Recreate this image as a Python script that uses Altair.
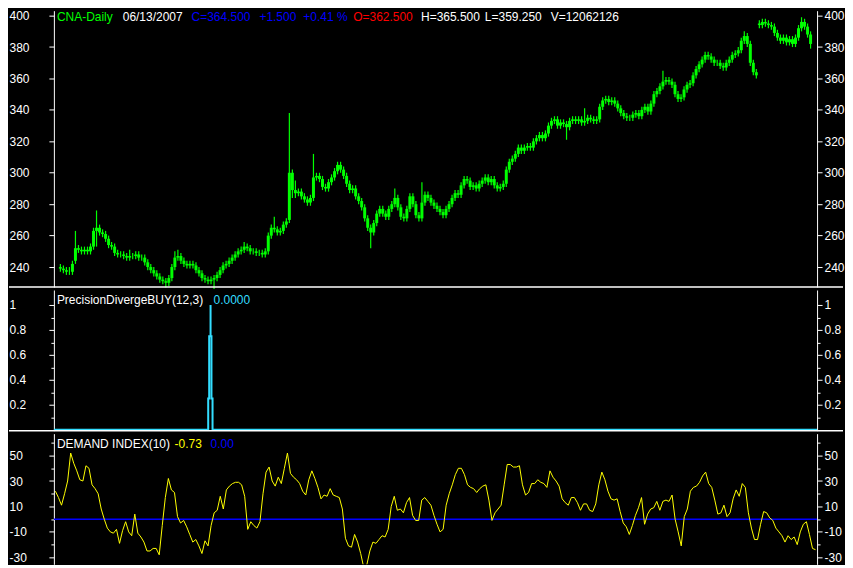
import altair as alt
import pandas as pd

# ---------------- data ----------------
closes = [
    239, 238, 237, 237, 242, 252, 251, 250, 251, 250,
    253, 263, 265, 262, 261, 258, 254, 253, 249, 248,
    248, 247, 246, 247, 247, 248, 246, 246, 243, 240,
    238, 236, 234, 232, 231, 230, 233, 240, 246, 247,
    244, 242, 241, 242, 241, 238, 236, 233, 232, 231,
    232, 233, 235, 238, 241, 242, 244, 246, 248, 250,
    251, 253, 252, 250, 250, 249, 249, 248, 250, 260,
    265, 264, 262, 263, 267, 269, 300, 289, 287, 288,
    285, 283, 281, 284, 297, 298, 296, 291, 290, 294,
    297, 301, 305, 302, 298, 293, 289, 290, 285, 282,
    278, 271, 265, 262, 268, 274, 277, 274, 272, 277,
    280, 284, 278, 272, 271, 277, 285, 280, 273, 271,
    281, 286, 284, 281, 279, 277, 275, 273, 277, 280,
    284, 287, 286, 292, 296, 295, 291, 292, 290, 293,
    295, 297, 294, 296, 292, 290, 291, 293, 302, 307,
    309, 312, 316, 314, 316, 317, 316, 320, 322, 324,
    322, 325, 330, 333, 334, 330, 332, 331, 329, 333,
    334, 333, 334, 332, 333, 335, 334, 333, 334, 342,
    346, 347, 345, 346, 344, 341, 338, 336, 335, 335,
    337, 338, 336, 340, 342, 339, 344, 350, 352, 355,
    358, 359, 358, 356, 350, 347, 348, 353, 356, 357,
    362, 366, 369, 372, 375, 374, 372, 370, 370, 368,
    367, 370, 372, 375, 376, 378, 384, 387, 382, 370,
    364, 362, 394, 396, 395, 394, 393, 389, 386, 384,
    386, 383, 385, 382, 386, 392, 396, 393, 388, 382,
]
opens = [
    240, 239, 238, 237, 237, 244, 252, 251, 250, 251,
    250, 253, 263, 265, 262, 261, 258, 254, 253, 249,
    248, 248, 247, 246, 247, 247, 248, 246, 246, 243,
    240, 238, 236, 234, 232, 231, 230, 233, 240, 246,
    247, 244, 242, 241, 242, 241, 238, 236, 233, 232,
    231, 232, 233, 235, 238, 241, 242, 244, 246, 248,
    250, 251, 253, 252, 250, 250, 249, 249, 248, 250,
    260, 265, 264, 262, 263, 267, 270, 300, 289, 287,
    288, 285, 283, 281, 284, 297, 298, 296, 291, 290,
    294, 297, 301, 305, 302, 298, 293, 289, 290, 285,
    282, 278, 271, 265, 262, 268, 274, 277, 274, 272,
    277, 280, 284, 278, 272, 271, 277, 285, 280, 273,
    271, 281, 286, 284, 281, 279, 277, 275, 273, 277,
    280, 284, 287, 286, 292, 296, 295, 291, 292, 290,
    293, 295, 297, 294, 296, 292, 290, 291, 293, 302,
    307, 309, 312, 316, 314, 316, 317, 316, 320, 322,
    324, 322, 325, 330, 333, 334, 330, 332, 331, 329,
    333, 334, 333, 334, 332, 333, 335, 334, 333, 334,
    342, 346, 347, 345, 346, 344, 341, 338, 336, 335,
    335, 337, 338, 336, 340, 342, 339, 344, 350, 352,
    355, 358, 359, 358, 356, 350, 347, 348, 353, 356,
    357, 362, 366, 369, 372, 375, 374, 372, 370, 370,
    368, 367, 370, 372, 375, 376, 378, 384, 387, 382,
    370, 364, 395, 394, 396, 395, 394, 393, 389, 386,
    384, 386, 383, 385, 382, 386, 392, 396, 393, 388,
]
highs = [
    242, 241, 240, 240, 244, 263, 254, 253, 253, 253,
    255, 265, 276, 267, 264, 263, 260, 256, 255, 251,
    250, 250, 249, 251, 249, 250, 250, 248, 248, 245,
    242, 240, 238, 236, 234, 233, 235, 242, 250, 251,
    249, 246, 244, 244, 244, 243, 240, 238, 235, 234,
    234, 235, 237, 240, 243, 244, 246, 248, 250, 252,
    253, 256, 255, 254, 252, 252, 251, 251, 252, 262,
    267, 272, 266, 265, 269, 271, 338, 302, 295, 290,
    290, 287, 285, 286, 312, 300, 300, 298, 293, 296,
    299, 303, 307, 307, 304, 300, 295, 292, 292, 287,
    284, 280, 273, 267, 270, 276, 279, 279, 276, 279,
    282, 290, 286, 280, 274, 279, 287, 287, 282, 275,
    294, 288, 288, 286, 283, 281, 279, 277, 279, 282,
    286, 289, 289, 294, 298, 298, 297, 294, 294, 295,
    297, 299, 299, 298, 298, 294, 293, 295, 304, 309,
    311, 314, 318, 318, 318, 319, 319, 322, 324, 326,
    326, 327, 332, 335, 336, 336, 334, 334, 333, 335,
    336, 336, 336, 336, 341, 337, 337, 336, 336, 344,
    348, 349, 349, 348, 348, 346, 343, 340, 338, 337,
    339, 340, 340, 342, 344, 344, 346, 352, 354, 357,
    365, 361, 361, 360, 358, 352, 350, 355, 358, 359,
    364, 368, 371, 374, 377, 377, 376, 374, 372, 372,
    370, 372, 374, 377, 378, 380, 386, 390, 389, 384,
    372, 366, 397, 398, 398, 397, 396, 395, 391, 388,
    388, 388, 387, 387, 388, 394, 399, 398, 395, 390,
]
lows = [
    237, 236, 235, 235, 235, 242, 249, 248, 248, 248,
    248, 251, 253, 260, 259, 256, 252, 251, 247, 246,
    246, 245, 244, 244, 245, 245, 244, 244, 241, 238,
    236, 234, 232, 230, 229, 227, 228, 231, 238, 244,
    242, 240, 239, 239, 239, 236, 234, 231, 230, 229,
    229, 226, 231, 233, 236, 239, 240, 242, 244, 246,
    248, 249, 250, 248, 248, 247, 247, 246, 246, 248,
    258, 262, 260, 260, 261, 265, 268, 284, 284, 285,
    283, 281, 279, 279, 282, 295, 294, 289, 288, 288,
    292, 295, 299, 300, 296, 291, 287, 287, 283, 280,
    276, 269, 263, 252, 260, 266, 272, 272, 270, 270,
    275, 278, 276, 270, 269, 269, 275, 278, 271, 269,
    269, 279, 282, 279, 277, 275, 273, 271, 271, 275,
    278, 282, 284, 284, 290, 293, 289, 289, 288, 288,
    291, 293, 292, 292, 290, 288, 288, 289, 291, 300,
    305, 307, 310, 312, 312, 314, 314, 314, 318, 320,
    320, 320, 323, 328, 331, 328, 328, 329, 321, 327,
    331, 331, 331, 330, 330, 331, 332, 331, 331, 332,
    340, 344, 343, 343, 342, 339, 336, 334, 333, 333,
    333, 335, 334, 334, 338, 337, 337, 342, 348, 350,
    353, 356, 356, 354, 348, 345, 345, 346, 351, 354,
    355, 360, 364, 367, 370, 372, 370, 368, 368, 366,
    365, 365, 368, 370, 373, 374, 376, 382, 380, 368,
    362, 360, 392, 392, 393, 392, 391, 387, 384, 382,
    382, 381, 381, 380, 380, 384, 390, 391, 386, 379,
]
demand_index = [
    22, 17, 11, 20, 30, 52, 44, 38, 31, 30,
    42, 40, 27, 24, 20, 8, 0, -7, -10, -11,
    -8, -19, -9, -2, -10, -13, 4, -11, -14, -18,
    -25, -25, -23, -23, -28, -5, 17, 32, 23, 21,
    2, -3, -1, -6, -12, -18, -16, -21, -27, -17,
    -21, -5, 5, 7, 18, 8, 23, 26, 28, 29,
    29, 27, 18, -8, -2, -5, -7, -2, 20, 37,
    41, 30, 26, 33, 28, 40, 52, 36, 33, 31,
    28, 22, 19, 31, 38, 32, 25, 16, 19, 18,
    24, 19, 18, 17, 8, -15, -21, -22, -12, -18,
    -27, -38, -36, -25, -18, -19, -16, -13, -14, -8,
    10, 18, 7, 8, 5, 13, 17, 3, -1, -1,
    15, 17, 14, 11, 3, -4, -10, -8, 11, 20,
    27, 35, 40, 40, 35, 27, 25, 24, 21, 24,
    26, 27, 15, -1, 5, 8, 11, 27, 43, 43,
    41, 41, 42, 27, 19, 21, 28, 28, 31, 29,
    28, 25, 38, 33, 30, 26, 16, 13, 11, 17,
    17, 13, 7, 12, 12, 7, 6, 12, 27, 37,
    31, 22, 16, 15, 16, 6, -3, -6, -12, -5,
    3, 9, 17, -4, 4, 8, 9, 14, 7, 14,
    15, 14, 19, 0, -10, -21, 2, 8, 22, 25,
    26, 29, 34, 37, 28, 25, 15, 4, 5, 11,
    2, 5, 16, 23, 18, 28, 25, 5, -7, -16,
    -16, -4, 6, 5, 1, -1, -7, -10, -13, -18,
    -13, -16, -14, -20, -10, -4, -2, -12, -23, -24,
]
# PrecisionDivergeBUY(12,3) trace (bar position, value)
pdb_x = [-0.5, 50.05, 50.05, 50.37, 50.37, 50.82, 50.82, 50.82, 51.12, 51.12, 51.47, 51.47, 249.5]
pdb_y = [0, 0, 0.25, 0.25, 0.75, 0.75, 1.0, 0.75, 0.75, 0.25, 0.25, 0, 0]

price_ticks = [240, 260, 280, 300, 320, 340, 360, 380, 400]
pdb_ticks = [0.2, 0.4, 0.6, 0.8, 1]
pdb_minor = [0.1, 0.3, 0.5, 0.7, 0.9]
di_ticks = [-30, -10, 10, 30, 50]
di_minor = [-20, 0, 20, 40, 60]

# ---------------- styling ----------------
FONT = "Liberation Sans"
GREEN = "#00FF00"
CYAN = "#33DDFF"
YELLOW = "#FFFF00"
BLUE = "#0000FF"
RED = "#FF0000"
WHITE = "#FFFFFF"

W = 765
H1, H2, H3 = 277, 141, 131
n = len(closes)

price_df = pd.DataFrame({"i": list(range(n)), "open": opens, "close": closes,
                         "high": highs, "low": lows})
di_df = pd.DataFrame({"i": list(range(n)), "di": demand_index})
pdb_df = pd.DataFrame({"x": pdb_x, "v": pdb_y, "k": list(range(len(pdb_x)))})
zero_df = pd.DataFrame({"z": [0]})

xs = alt.Scale(domain=[-0.5, n - 0.5], nice=False, zero=False)
ys_price = alt.Scale(domain=[227.3, 403.17], nice=False, zero=False)
ys_pdb = alt.Scale(domain=[-0.008, 1.12], nice=False, zero=False)
ys_di = alt.Scale(domain=[-35.5, 67.25], nice=False, zero=False)
X = alt.X("i:Q", scale=xs, axis=None)


def yaxis(orient, values, labels=True, size=5, domain=True):
    kw = dict(orient=orient, values=values, tickSize=size, tickColor=WHITE,
              tickWidth=1, ticks=True, domain=domain, grid=False, title=None,
              labels=labels)
    if domain:
        kw.update(domainColor=WHITE, domainWidth=1)
    if labels:
        kw.update(labelColor=WHITE, labelFont=FONT, labelFontSize=12,
                  labelAlign="left", labelBaseline="middle",
                  labelExpr="'' + datum.value", labelOverlap=False,
                  labelFlush=False,
                  labelPadding=(45 - size) if orient == "left" else 2)
    return alt.Axis(**kw)


def label(txt, x, y, color):
    return alt.Chart(alt.Data(values=[{"t": txt}])).mark_text(
        align="left", baseline="middle", font=FONT, fontSize=12, color=color
    ).encode(text="t:N", x=alt.value(x), y=alt.value(y))


def separator(h):
    return alt.Chart(alt.Data(values=[{}])).mark_rule(
        color=WHITE, strokeWidth=1.5
    ).encode(x=alt.value(-45), x2=alt.value(W + 26), y=alt.value(h))


# ---------------- top panel: price candles ----------------
wicks = alt.Chart(price_df).mark_rule(color=GREEN, strokeWidth=1.2).encode(
    x=X, y=alt.Y("low:Q", scale=ys_price, axis=yaxis("left", price_ticks)),
    y2="high:Q")
bodies = alt.Chart(price_df).mark_bar(color=GREEN, size=3).encode(
    x=X, y=alt.Y("open:Q", scale=ys_price, axis=yaxis("right", price_ticks)),
    y2="close:Q")

top = alt.layer(
    wicks, bodies,
    label("CNA-Daily", 3, 6, GREEN),
    label("06/13/2007", 69, 6, WHITE),
    label("C=364.500", 138, 6, BLUE),
    label("+1.500", 206, 6, BLUE),
    label("+0.41 %", 250, 6, BLUE),
    label("O=362.500", 300, 6, RED),
    label("H=365.500", 368, 6, WHITE),
    label("L=359.250", 432, 6, WHITE),
    label("V=12062126", 498, 6, WHITE),
    separator(H1),
).properties(width=W, height=H1).resolve_axis(y="independent")

# ---------------- middle panel: PrecisionDivergeBUY ----------------
PX = alt.X("x:Q", scale=xs, axis=None)
pdb_line = alt.Chart(pdb_df).mark_line(color=CYAN, strokeWidth=2).encode(
    x=PX, y=alt.Y("v:Q", scale=ys_pdb, axis=yaxis("left", pdb_ticks)),
    order="k:Q")


def pdb_ghost(ax):
    return alt.Chart(pdb_df).mark_line(opacity=0).encode(
        x=PX, y=alt.Y("v:Q", scale=ys_pdb, axis=ax), order="k:Q")


mid = alt.layer(
    pdb_line,
    pdb_ghost(yaxis("right", pdb_ticks)),
    pdb_ghost(yaxis("left", pdb_minor, labels=False, size=3, domain=False)),
    pdb_ghost(yaxis("right", pdb_minor, labels=False, size=3, domain=False)),
    label("PrecisionDivergeBUY(12,3)", 3, 10, WHITE),
    label("0.0000", 160, 10, CYAN),
    separator(H2),
).properties(width=W, height=H2).resolve_axis(y="independent")

# ---------------- bottom panel: Demand Index ----------------
zero_rule = alt.Chart(zero_df).mark_rule(color=BLUE, strokeWidth=1.5).encode(
    y=alt.Y("z:Q", scale=ys_di, axis=yaxis("right", di_ticks)))
di_line = alt.Chart(di_df).mark_line(color=YELLOW, strokeWidth=1, clip=True).encode(
    x=X, y=alt.Y("di:Q", scale=ys_di, axis=yaxis("left", di_ticks)))


def di_ghost(ax):
    return alt.Chart(di_df).mark_line(opacity=0, clip=True).encode(
        x=X, y=alt.Y("di:Q", scale=ys_di, axis=ax))


bot = alt.layer(
    zero_rule, di_line,
    di_ghost(yaxis("left", di_minor, labels=False, size=3, domain=False)),
    di_ghost(yaxis("right", di_minor, labels=False, size=3, domain=False)),
    label("DEMAND INDEX(10)", 3, 10, WHITE),
    label("-0.73", 121, 10, YELLOW),
    label("0.00", 157, 10, BLUE),
).properties(width=W, height=H3).resolve_axis(y="independent")

chart = alt.vconcat(top, mid, bot, spacing=0).properties(
    padding=0, background="black"
).configure_view(strokeOpacity=0)

chart.save("out.html", embed_options={"renderer": "svg", "actions": False})
